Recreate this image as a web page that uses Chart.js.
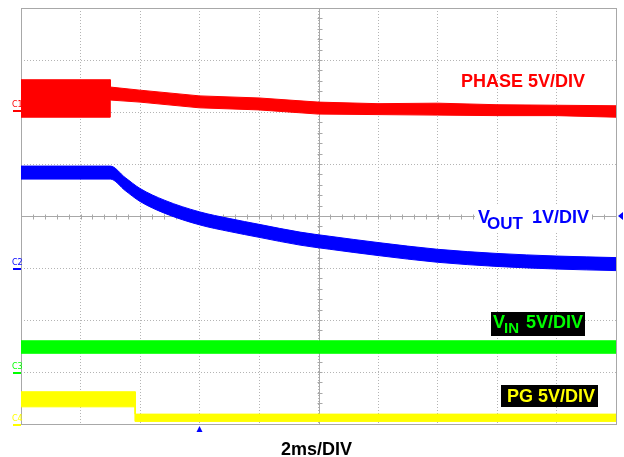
<!DOCTYPE html>
<html><head><meta charset="utf-8">
<script src="https://cdn.jsdelivr.net/npm/chart.js@4/dist/chart.umd.min.js"></script>
<style>html,body{margin:0;padding:0;background:#fff;overflow:hidden}canvas{display:block}</style>
</head><body>
<canvas id="c" width="624" height="457"></canvas>
<script>
// x in divisions (2 ms/DIV), y in divisions from bottom of screen
const phaseX  = [0, 1.5, 1.5, 2, 3, 4, 5, 6, 7, 8, 9, 10];
const phaseHi = [6.62, 6.62, 6.48, 6.42, 6.31, 6.27, 6.19, 6.16, 6.17, 6.14, 6.13, 6.12];
const phaseLo = [5.90, 5.90, 6.23, 6.19, 6.08, 6.04, 5.96, 5.95, 5.94, 5.93, 5.93, 5.90];

const voutX  = [0, 1.5, 1.75, 2.0, 2.42, 3.0, 3.51, 4.0, 4.69, 5.19, 6.0, 7.0, 8.0, 9.0, 10];
const voutHi = [4.96, 4.96, 4.74, 4.53, 4.30, 4.08, 3.95, 3.84, 3.69, 3.61, 3.49, 3.36, 3.28, 3.23, 3.20];
const voutLo = [4.71, 4.71, 4.49, 4.28, 4.05, 3.83, 3.70, 3.59, 3.44, 3.36, 3.24, 3.11, 3.03, 2.98, 2.95];

const vinX  = [0, 10];
const vinHi = [1.60, 1.60];
const vinLo = [1.36, 1.36];

const pgX  = [0, 1.92, 1.92, 10];
const pgHi = [0.62, 0.62, 0.19, 0.19];
const pgLo = [0.33, 0.33, 0.05, 0.05];

const RED = '#ff0000', BLUE = '#0000ff', GREEN = '#00ff00', YELLOW = '#ffff00';

function pts(xs, ys){ return xs.map((x,i)=>({x:x, y:ys[i]})); }
function band(xs, hi, lo, color, cubic){
  const base = {borderColor: color, backgroundColor: color, borderWidth: 1, pointRadius: 0,
    tension: 0, cubicInterpolationMode: cubic ? 'monotone' : 'default'};
  return [
    Object.assign({}, base, {data: pts(xs, hi), fill: false}),
    Object.assign({}, base, {data: pts(xs, lo), fill: '-1'})
  ];
}

const FONT = '"Liberation Sans", Arial, sans-serif';

const decor = {
  id: 'decor',
  beforeDatasetsDraw(chart){
    const {ctx, chartArea: a, scales: {x, y}} = chart;
    ctx.save();
    ctx.strokeStyle = '#a8a8a8';
    ctx.lineWidth = 1;
    ctx.strokeRect(Math.round(a.left)+0.5, Math.round(a.top)+0.5, Math.round(a.right-a.left), Math.round(a.bottom-a.top));
    const cx = Math.round(x.getPixelForValue(5))+0.5;
    const cy = Math.round(y.getPixelForValue(4))+0.5;
    ctx.beginPath();
    ctx.moveTo(cx, a.top); ctx.lineTo(cx, a.bottom);
    ctx.moveTo(a.left, cy); ctx.lineTo(a.right, cy);
    for (let v = 0; v <= 10.001; v += 0.2){
      const px = Math.round(x.getPixelForValue(v))+0.5;
      ctx.moveTo(px, cy-2); ctx.lineTo(px, cy+3);
    }
    for (let v = 0; v <= 8.001; v += 0.2){
      const py = Math.round(y.getPixelForValue(v))+0.5;
      ctx.moveTo(cx-2, py); ctx.lineTo(cx+3, py);
    }
    ctx.stroke();
    ctx.restore();
  },
  afterDatasetsDraw(chart){
    const {ctx, chartArea: a, scales: {x, y}} = chart;
    ctx.save();
    ctx.textBaseline = 'alphabetic';
    // PHASE label
    ctx.font = 'bold 18px ' + FONT;
    ctx.fillStyle = RED;
    ctx.fillText('PHASE 5V/DIV', 461, 87);
    // VOUT label with white background
    ctx.fillStyle = '#ffffff';
    ctx.fillRect(475, 204, 117, 29);
    ctx.fillStyle = BLUE;
    ctx.font = 'bold 18px ' + FONT;
    ctx.fillText('V', 478, 223);
    ctx.font = 'bold 17px ' + FONT;
    ctx.fillText('OUT', 487, 229);
    ctx.font = 'bold 18px ' + FONT;
    ctx.fillText('1V/DIV', 532, 223);
    // VIN label
    ctx.fillStyle = '#000000';
    ctx.fillRect(491, 312, 94, 24);
    ctx.fillStyle = GREEN;
    ctx.font = 'bold 18px ' + FONT;
    ctx.fillText('V', 493, 328);
    ctx.font = 'bold 15px ' + FONT;
    ctx.fillText('IN', 504, 333);
    ctx.font = 'bold 18px ' + FONT;
    ctx.fillText('5V/DIV', 526, 328);
    // PG label
    ctx.fillStyle = '#000000';
    ctx.fillRect(501, 385, 97, 22);
    ctx.fillStyle = YELLOW;
    ctx.font = 'bold 18px ' + FONT;
    ctx.fillText('PG 5V/DIV', 507, 402);
    // time base
    ctx.fillStyle = '#000000';
    ctx.fillText('2ms/DIV', 281, 455);
    // channel markers
    ctx.font = '8px "DejaVu Sans", sans-serif';
    const marks = [['C1', RED, 107, 110], ['C2', BLUE, 265, 268], ['C3', GREEN, 369, 372], ['C4', YELLOW, 421, 424]];
    marks.forEach(([t, c, by, ly]) => {
      ctx.fillStyle = c;
      ctx.fillText(t, 12, by);
      ctx.fillRect(13, ly, 8, 2);
    });
    // trigger level marker (right) and trigger position (bottom)
    ctx.fillStyle = BLUE;
    const ty = y.getPixelForValue(4);
    ctx.beginPath();
    ctx.moveTo(618, ty); ctx.lineTo(623, ty-4); ctx.lineTo(623, ty+4); ctx.closePath(); ctx.fill();
    const tx = x.getPixelForValue(3);
    ctx.beginPath();
    ctx.moveTo(tx, a.bottom+2); ctx.lineTo(tx+3, a.bottom+8); ctx.lineTo(tx-3, a.bottom+8); ctx.closePath(); ctx.fill();
    ctx.restore();
  }
};

new Chart(document.getElementById('c'), {
  type: 'line',
  data: {
    datasets: [
      ...band(phaseX, phaseHi, phaseLo, RED, false),
      ...band(voutX, voutHi, voutLo, BLUE, true),
      ...band(vinX, vinHi, vinLo, GREEN, false),
      ...band(pgX, pgHi, pgLo, YELLOW, false)
    ]
  },
  options: {
    responsive: false,
    animation: false,
    devicePixelRatio: 1,
    layout: {padding: {left: 21, right: 8, top: 8, bottom: 33}},
    plugins: {legend: {display: false}, tooltip: {enabled: false}},
    scales: {
      x: {type: 'linear', min: 0, max: 10,
          ticks: {display: false, stepSize: 1},
          grid: {color: '#b4b4b4', lineWidth: 1, drawTicks: false},
          border: {display: false, dash: [1, 2]}},
      y: {type: 'linear', min: 0, max: 8,
          ticks: {display: false, stepSize: 1},
          grid: {color: '#b4b4b4', lineWidth: 1, drawTicks: false},
          border: {display: false, dash: [1, 2]}}
    }
  },
  plugins: [decor]
});
</script>
</body></html>
